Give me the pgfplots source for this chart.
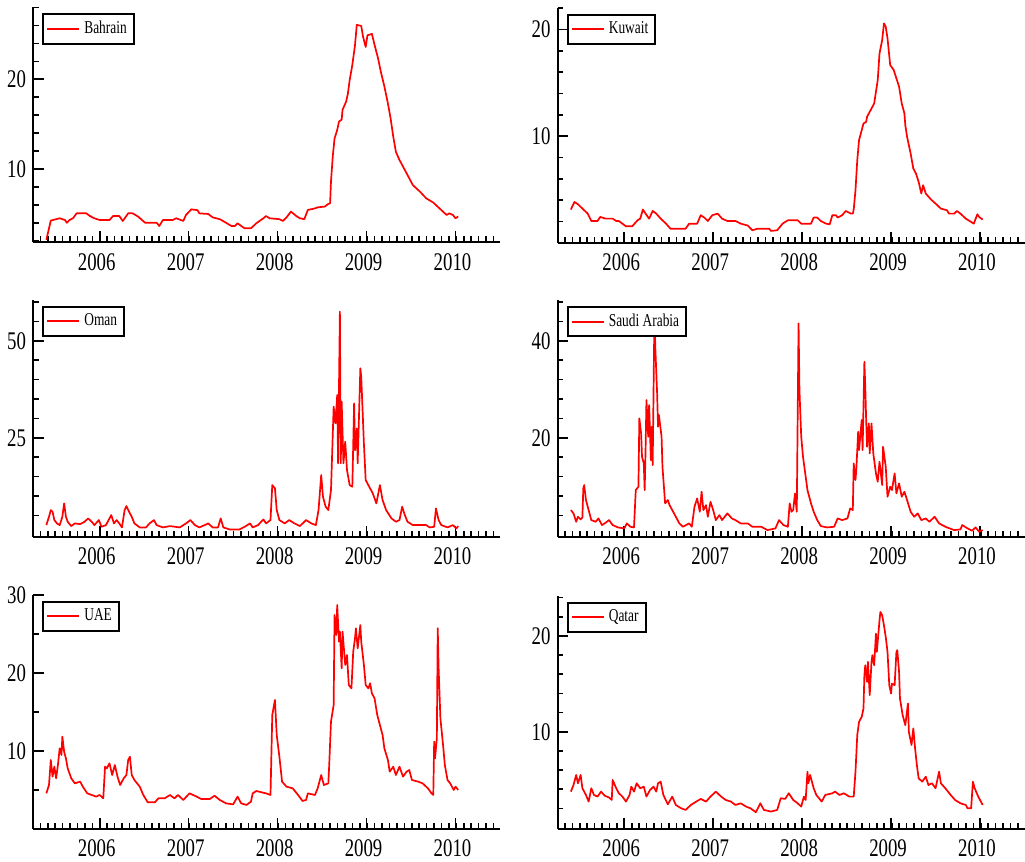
\documentclass[border=0pt]{standalone}
\usepackage{fontspec}
\setmainfont{Liberation Serif}
\usepackage{graphicx}
\usepackage{pgfplots}
\pgfplotsset{compat=1.18}
\newcommand{\sy}[1]{\scalebox{1}[1.35]{#1}}
\pgfplotsset{
  panel/.style={
    scale only axis, width=233.5pt,
    axis lines=left, axis line style={-, line width=1pt},
    xmin=2005.25, xmax=2010.5,
    xtick={2006,2007,2008,2009,2010},
    xticklabels={\sy{2006},\sy{2007},\sy{2008},\sy{2009},\sy{2010}},
    minor xtick={2005.3333,2005.4167,...,2010.45},
    tick align=inside, major tick length=5.5pt, minor tick length=3pt,
    tick style={line width=0.8pt, black},
    tick label style={font=\fontsize{9.4}{10}\selectfont},
    xticklabel style={yshift=-2pt, xshift=-1.5pt},
    legend style={at={(axis description cs:0.02,0.975)}, anchor=north west,
      draw=black, line width=1pt, font=\fontsize{6.7}{7}\selectfont,
      inner xsep=1.5pt, inner ysep=1.5pt},
    legend image code/.code={\draw[#1, line width=1pt] (0pt,0pt) -- (16pt,0pt);},
    legend cell align=left,
  },
  ser/.style={red, line width=0.85pt, mark=none, line join=round},
}
\begin{document}
\begin{tikzpicture}
\path[use as bounding box] (0,0) rectangle (512.5pt,431pt);

% Bahrain
\begin{axis}[panel, at={(16.5pt,309.75pt)}, anchor=south west, height=117.5pt,
  ymin=1.8, ymax=28, ytick={10,20}, yticklabels={\sy{10},\sy{20}},
  minor ytick={2,4,...,28}]
\addplot[ser] coordinates {
(2005.40,2.1)(2005.45,4.24)(2005.51,4.4)(2005.55,4.5)(2005.61,4.3)(2005.63,4.0)(2005.66,4.3)(2005.70,4.5)(2005.74,5.05)(2005.85,5.05)(2005.89,4.75)(2005.94,4.5)(2006.00,4.3)(2006.11,4.3)(2006.15,4.75)(2006.22,4.75)(2006.26,4.2)(2006.32,5.05)(2006.37,5.05)(2006.43,4.7)(2006.51,4.0)(2006.64,4.0)(2006.67,3.64)(2006.71,4.3)(2006.82,4.3)(2006.86,4.5)(2006.94,4.2)(2006.97,4.87)(2007.03,5.5)(2007.10,5.4)(2007.12,5.05)(2007.22,4.98)(2007.27,4.6)(2007.35,4.4)(2007.42,4.0)(2007.48,3.64)(2007.52,3.64)(2007.55,3.94)(2007.59,3.64)(2007.63,3.38)(2007.70,3.38)(2007.76,3.94)(2007.84,4.5)(2007.87,4.75)(2007.91,4.5)(2008.02,4.4)(2008.06,4.2)(2008.10,4.6)(2008.15,5.24)(2008.21,4.75)(2008.25,4.5)(2008.30,4.4)(2008.34,5.43)(2008.42,5.6)(2008.45,5.72)(2008.53,5.8)(2008.57,6.1)(2008.59,6.17)(2008.60,8.6)(2008.62,11.4)(2008.64,13.4)(2008.67,14.35)(2008.69,15.28)(2008.72,15.5)(2008.73,16.6)(2008.77,17.5)(2008.79,18.4)(2008.81,19.9)(2008.84,21.6)(2008.87,23.8)(2008.89,26.06)(2008.94,25.95)(2008.96,24.76)(2008.99,23.6)(2009.01,24.9)(2009.06,25.06)(2009.09,23.83)(2009.13,22.3)(2009.16,20.85)(2009.20,19.2)(2009.24,17.3)(2009.27,15.65)(2009.30,13.6)(2009.33,11.9)(2009.37,11.0)(2009.41,10.26)(2009.46,9.33)(2009.52,8.2)(2009.60,7.47)(2009.67,6.73)(2009.75,6.25)(2009.82,5.6)(2009.90,4.87)(2009.93,5.05)(2009.97,4.87)(2010.00,4.5)(2010.03,4.7)
};
\addlegendentry{\sy{Bahrain}}
\end{axis}

% Kuwait
\begin{axis}[panel, at={(278.75pt,309.5pt)}, anchor=south west, height=117.5pt,
  ymin=0, ymax=22, ytick={10,20}, yticklabels={\sy{10},\sy{20}},
  minor ytick={2,4,...,22}]
\addplot[ser] coordinates {
(2005.40,3.13)(2005.44,3.84)(2005.48,3.63)(2005.53,3.22)(2005.59,2.75)(2005.63,2.06)(2005.70,2.06)(2005.73,2.44)(2005.79,2.28)(2005.87,2.28)(2005.91,2.06)(2005.94,2.06)(2005.98,1.81)(2006.02,1.56)(2006.09,1.56)(2006.15,2.13)(2006.18,2.28)(2006.21,3.13)(2006.24,2.75)(2006.28,2.28)(2006.32,3.0)(2006.36,2.75)(2006.41,2.28)(2006.47,1.81)(2006.52,1.34)(2006.69,1.34)(2006.73,1.81)(2006.82,1.81)(2006.86,2.6)(2006.90,2.38)(2006.94,2.06)(2006.99,2.6)(2007.05,2.75)(2007.10,2.28)(2007.16,2.06)(2007.25,2.06)(2007.31,1.81)(2007.39,1.63)(2007.44,1.19)(2007.50,1.34)(2007.63,1.34)(2007.65,1.13)(2007.72,1.19)(2007.78,1.81)(2007.84,2.13)(2007.95,2.13)(2007.99,1.81)(2008.10,1.81)(2008.13,2.38)(2008.17,2.38)(2008.21,2.06)(2008.27,1.81)(2008.31,1.75)(2008.34,2.6)(2008.38,2.6)(2008.40,2.38)(2008.45,2.6)(2008.49,3.0)(2008.55,2.75)(2008.57,2.75)(2008.58,3.13)(2008.60,4.94)(2008.62,7.75)(2008.64,9.63)(2008.67,10.56)(2008.69,11.19)(2008.72,11.34)(2008.73,11.81)(2008.76,12.28)(2008.81,13.06)(2008.85,15.25)(2008.87,17.75)(2008.90,19.0)(2008.92,20.56)(2008.94,20.25)(2008.96,19.16)(2008.99,16.66)(2009.03,16.19)(2009.06,15.41)(2009.09,14.63)(2009.12,13.06)(2009.15,12.13)(2009.16,11.03)(2009.18,9.94)(2009.22,8.38)(2009.25,6.97)(2009.28,6.5)(2009.31,5.72)(2009.34,4.63)(2009.36,5.41)(2009.39,4.63)(2009.45,4.06)(2009.50,3.69)(2009.56,3.22)(2009.63,3.06)(2009.65,2.75)(2009.71,2.75)(2009.74,3.0)(2009.78,2.75)(2009.84,2.28)(2009.90,1.97)(2009.93,1.81)(2009.97,2.69)(2009.99,2.44)(2010.03,2.19)
};
\addlegendentry{\sy{Kuwait}}
\end{axis}

% Oman
\begin{axis}[panel, at={(16.5pt,162.65pt)}, anchor=south west, height=118.35pt,
  ymin=-0.5, ymax=60.5, ytick={25,50}, yticklabels={\sy{25},\sy{50}},
  minor ytick={5,10,...,60}]
\addplot[ser] coordinates {
(2005.40,2.49)(2005.43,4.64)(2005.45,6.36)(2005.47,5.93)(2005.49,3.78)(2005.52,2.92)(2005.55,2.49)(2005.58,4.64)(2005.60,8.08)(2005.62,4.64)(2005.64,3.35)(2005.68,2.23)(2005.72,2.92)(2005.78,2.75)(2005.83,3.35)(2005.87,4.21)(2005.91,3.35)(2005.94,2.49)(2005.99,3.78)(2006.02,2.06)(2006.07,2.49)(2006.13,5.07)(2006.16,2.92)(2006.19,3.78)(2006.22,2.92)(2006.25,1.89)(2006.28,6.36)(2006.30,7.39)(2006.33,5.93)(2006.36,4.64)(2006.39,2.92)(2006.45,1.89)(2006.52,1.89)(2006.56,2.92)(2006.61,3.78)(2006.64,2.49)(2006.71,1.89)(2006.79,2.23)(2006.90,1.89)(2006.97,2.92)(2007.02,3.78)(2007.07,2.49)(2007.12,1.89)(2007.18,2.49)(2007.22,2.92)(2007.27,1.89)(2007.33,1.89)(2007.36,4.21)(2007.39,1.89)(2007.46,1.37)(2007.57,1.37)(2007.63,2.06)(2007.69,2.92)(2007.72,1.89)(2007.78,2.49)(2007.84,3.95)(2007.87,2.92)(2007.92,3.78)(2007.94,12.8)(2007.97,11.94)(2007.99,6.36)(2008.02,3.78)(2008.08,2.92)(2008.13,3.78)(2008.19,2.92)(2008.25,2.23)(2008.32,3.78)(2008.38,2.92)(2008.43,2.49)(2008.46,6.36)(2008.49,15.38)(2008.51,9.8)(2008.54,7.22)(2008.57,6.36)(2008.60,11.51)(2008.63,33.0)(2008.65,28.7)(2008.67,36.0)(2008.68,18.4)(2008.70,57.5)(2008.71,18.4)(2008.72,34.3)(2008.74,18.4)(2008.76,24.0)(2008.78,16.67)(2008.81,12.8)(2008.84,12.37)(2008.86,33.85)(2008.87,21.8)(2008.89,27.4)(2008.90,18.4)(2008.93,42.9)(2008.94,40.7)(2008.97,23.5)(2008.99,14.1)(2009.03,12.37)(2009.07,10.65)(2009.11,8.08)(2009.15,12.8)(2009.18,8.93)(2009.22,6.36)(2009.28,4.21)(2009.33,3.35)(2009.37,3.78)(2009.40,7.22)(2009.43,5.07)(2009.46,3.35)(2009.52,2.49)(2009.67,2.49)(2009.71,1.89)(2009.76,2.06)(2009.78,6.79)(2009.81,3.78)(2009.84,2.49)(2009.91,1.89)(2009.97,2.49)(2010.01,1.63)(2010.03,2.23)
};
\addlegendentry{\sy{Oman}}
\end{axis}

% Saudi Arabia
\begin{axis}[panel, at={(278.75pt,162.65pt)}, anchor=south west, height=118.35pt,
  ymin=-0.4, ymax=48.4, ytick={20,40}, yticklabels={\sy{20},\sy{40}},
  minor ytick={4,8,...,48}]
\addplot[ser] coordinates {
(2005.40,5.09)(2005.43,4.40)(2005.46,2.68)(2005.48,3.71)(2005.51,3.16)(2005.53,3.57)(2005.54,9.55)(2005.55,10.24)(2005.57,7.15)(2005.60,5.09)(2005.63,3.02)(2005.68,2.68)(2005.71,3.37)(2005.75,2.0)(2005.78,2.34)(2005.83,3.02)(2005.87,2.0)(2005.93,1.51)(2006.00,1.31)(2006.03,2.34)(2006.07,1.65)(2006.11,1.51)(2006.13,9.21)(2006.16,9.9)(2006.17,23.99)(2006.19,20.89)(2006.20,16.08)(2006.22,14.71)(2006.23,9.21)(2006.24,17.46)(2006.25,27.77)(2006.27,20.2)(2006.28,26.74)(2006.30,15.4)(2006.31,22.27)(2006.32,14.36)(2006.34,45.64)(2006.35,38.42)(2006.37,29.14)(2006.38,22.27)(2006.39,24.67)(2006.42,20.2)(2006.43,14.02)(2006.46,6.46)(2006.49,7.15)(2006.51,6.11)(2006.54,5.09)(2006.58,3.71)(2006.62,2.34)(2006.66,1.65)(2006.73,2.34)(2006.76,1.65)(2006.79,5.77)(2006.82,7.49)(2006.85,4.74)(2006.87,8.87)(2006.89,5.09)(2006.92,6.11)(2006.94,3.71)(2006.97,6.8)(2007.00,5.09)(2007.03,3.02)(2007.07,4.05)(2007.10,3.02)(2007.16,4.4)(2007.21,3.37)(2007.25,3.02)(2007.31,2.34)(2007.39,2.34)(2007.44,1.65)(2007.54,1.65)(2007.61,0.96)(2007.70,1.31)(2007.74,3.02)(2007.79,2.0)(2007.84,1.65)(2007.86,6.46)(2007.88,4.74)(2007.90,5.09)(2007.92,8.52)(2007.94,4.74)(2007.96,43.57)(2007.97,29.83)(2007.99,20.2)(2008.01,16.08)(2008.03,13.33)(2008.06,9.21)(2008.10,6.46)(2008.13,4.74)(2008.17,3.02)(2008.21,1.79)(2008.28,1.51)(2008.36,1.65)(2008.40,3.37)(2008.45,3.02)(2008.51,3.37)(2008.54,5.43)(2008.57,5.09)(2008.58,14.71)(2008.60,11.27)(2008.61,13.68)(2008.63,21.24)(2008.64,17.46)(2008.67,23.64)(2008.68,17.46)(2008.70,35.67)(2008.71,30.52)(2008.72,23.64)(2008.73,18.14)(2008.75,22.96)(2008.76,16.77)(2008.78,22.96)(2008.80,16.77)(2008.83,12.65)(2008.85,10.93)(2008.87,15.05)(2008.90,10.24)(2008.91,18.14)(2008.94,14.02)(2008.96,7.84)(2008.99,9.9)(2009.01,9.21)(2009.04,12.65)(2009.06,8.52)(2009.09,10.58)(2009.12,7.84)(2009.15,8.87)(2009.18,7.15)(2009.22,4.74)(2009.26,3.71)(2009.30,4.4)(2009.34,3.02)(2009.39,3.37)(2009.43,2.68)(2009.49,3.71)(2009.54,2.34)(2009.61,1.65)(2009.71,0.96)(2009.78,1.1)(2009.80,2.0)(2009.86,1.31)(2009.91,0.83)(2009.95,1.51)(2009.99,0.62)(2010.03,0.96)
};
\addlegendentry{\sy{Saudi Arabia}}
\end{axis}

% UAE
\begin{axis}[panel, at={(16.5pt,16.5pt)}, anchor=south west, height=117pt,
  ymin=0, ymax=30, ytick={10,20,30}, yticklabels={\sy{10},\sy{20},\sy{30}},
  minor ytick={5,10,...,30}]
\addplot[ser] coordinates {
(2005.40,4.57)(2005.43,5.64)(2005.45,8.85)(2005.47,6.71)(2005.49,7.99)(2005.51,6.5)(2005.53,8.2)(2005.55,10.34)(2005.57,9.49)(2005.58,11.84)(2005.60,9.91)(2005.62,9.06)(2005.64,7.78)(2005.68,6.5)(2005.72,5.85)(2005.78,6.07)(2005.81,5.43)(2005.86,4.57)(2005.91,4.36)(2005.96,4.15)(2006.00,4.36)(2006.04,3.93)(2006.06,7.99)(2006.08,7.78)(2006.11,8.42)(2006.14,6.92)(2006.17,8.2)(2006.20,6.71)(2006.23,5.64)(2006.27,6.5)(2006.30,6.92)(2006.32,8.85)(2006.34,9.27)(2006.36,6.92)(2006.39,6.28)(2006.45,5.43)(2006.49,4.36)(2006.54,3.42)(2006.62,3.42)(2006.66,3.93)(2006.73,3.93)(2006.79,4.36)(2006.84,3.93)(2006.88,4.36)(2006.94,3.72)(2007.01,4.57)(2007.09,4.15)(2007.14,3.85)(2007.24,3.85)(2007.29,4.27)(2007.35,3.72)(2007.42,3.29)(2007.50,3.16)(2007.55,4.15)(2007.59,3.29)(2007.65,3.08)(2007.70,3.5)(2007.72,4.57)(2007.76,4.87)(2007.82,4.7)(2007.87,4.57)(2007.92,4.36)(2007.94,14.62)(2007.97,16.54)(2007.99,12.05)(2008.02,9.27)(2008.05,6.07)(2008.10,5.43)(2008.17,5.21)(2008.23,4.36)(2008.28,3.59)(2008.32,3.72)(2008.34,4.57)(2008.42,4.36)(2008.45,5.21)(2008.49,6.92)(2008.52,5.64)(2008.57,5.85)(2008.58,8.2)(2008.60,13.76)(2008.63,15.9)(2008.64,27.44)(2008.66,24.87)(2008.67,28.72)(2008.69,24.02)(2008.70,25.3)(2008.72,20.6)(2008.73,25.3)(2008.76,21.03)(2008.78,22.31)(2008.80,18.46)(2008.83,18.03)(2008.85,22.74)(2008.87,24.44)(2008.88,25.73)(2008.90,23.16)(2008.93,26.15)(2008.94,24.02)(2008.97,21.03)(2008.99,18.46)(2009.02,18.03)(2009.04,18.68)(2009.06,17.39)(2009.09,16.75)(2009.12,14.62)(2009.15,13.33)(2009.18,12.05)(2009.20,10.34)(2009.24,8.85)(2009.26,7.35)(2009.30,7.99)(2009.33,6.92)(2009.37,7.99)(2009.41,6.71)(2009.45,7.35)(2009.48,7.56)(2009.51,6.28)(2009.58,6.07)(2009.63,5.85)(2009.69,5.21)(2009.73,4.57)(2009.75,4.36)(2009.76,11.2)(2009.77,9.06)(2009.79,11.62)(2009.80,25.73)(2009.81,20.6)(2009.83,14.19)(2009.86,10.77)(2009.88,8.2)(2009.91,6.28)(2009.94,5.85)(2009.98,5.0)(2010.00,5.43)(2010.03,5.0)
};
\addlegendentry{\sy{UAE}}
\end{axis}

% Qatar
\begin{axis}[panel, at={(278.75pt,16.5pt)}, anchor=south west, height=116.65pt,
  ymin=-0.15, ymax=24.2, ytick={10,20}, yticklabels={\sy{10},\sy{20}},
  minor ytick={2,4,...,24}]
\addplot[ser] coordinates {
(2005.40,3.75)(2005.43,4.44)(2005.46,5.49)(2005.48,4.62)(2005.51,5.49)(2005.53,4.1)(2005.57,3.4)(2005.60,2.71)(2005.63,4.1)(2005.66,3.4)(2005.70,3.23)(2005.74,3.75)(2005.78,3.33)(2005.83,3.13)(2005.86,2.88)(2005.87,4.97)(2005.91,4.1)(2005.94,3.58)(2005.98,3.23)(2006.02,2.71)(2006.06,3.4)(2006.08,4.27)(2006.11,3.75)(2006.14,4.62)(2006.18,4.1)(2006.22,4.27)(2006.25,3.23)(2006.29,3.92)(2006.33,4.27)(2006.36,3.75)(2006.38,4.62)(2006.41,4.79)(2006.44,3.4)(2006.49,2.43)(2006.54,3.23)(2006.58,2.36)(2006.64,2.01)(2006.69,1.84)(2006.75,2.36)(2006.81,2.71)(2006.86,2.99)(2006.92,2.71)(2006.97,3.23)(2007.03,3.75)(2007.09,3.23)(2007.14,2.88)(2007.20,2.71)(2007.25,2.36)(2007.31,2.53)(2007.37,2.19)(2007.42,2.01)(2007.48,1.6)(2007.53,2.53)(2007.57,1.84)(2007.65,1.67)(2007.72,1.84)(2007.76,3.06)(2007.81,2.99)(2007.85,3.58)(2007.90,2.88)(2007.95,2.53)(2007.99,2.19)(2008.02,3.23)(2008.04,2.88)(2008.06,5.83)(2008.07,4.62)(2008.09,5.49)(2008.13,4.1)(2008.16,3.4)(2008.19,3.06)(2008.22,2.71)(2008.26,3.4)(2008.34,3.58)(2008.37,3.75)(2008.42,3.4)(2008.47,3.58)(2008.53,3.23)(2008.58,3.23)(2008.60,5.83)(2008.62,9.65)(2008.64,11.04)(2008.67,11.56)(2008.69,12.43)(2008.70,15.9)(2008.71,16.94)(2008.73,15.21)(2008.74,17.29)(2008.76,13.82)(2008.78,17.29)(2008.79,17.99)(2008.81,16.94)(2008.83,20.24)(2008.84,18.33)(2008.87,21.63)(2008.88,22.5)(2008.90,22.15)(2008.92,21.11)(2008.94,19.9)(2008.96,18.33)(2008.98,14.86)(2009.00,13.99)(2009.01,15.03)(2009.04,14.86)(2009.06,18.33)(2009.07,18.51)(2009.09,16.25)(2009.10,13.47)(2009.13,11.74)(2009.16,10.69)(2009.19,12.95)(2009.20,10.0)(2009.23,8.61)(2009.25,10.35)(2009.27,8.26)(2009.29,6.53)(2009.31,5.14)(2009.35,4.79)(2009.39,5.31)(2009.42,4.44)(2009.46,4.62)(2009.50,4.1)(2009.54,5.83)(2009.56,4.62)(2009.61,4.1)(2009.67,3.4)(2009.72,2.88)(2009.78,2.53)(2009.84,2.36)(2009.86,2.01)(2009.90,2.01)(2009.92,4.79)(2009.94,4.1)(2009.98,3.23)(2010.03,2.36)
};
\addlegendentry{\sy{Qatar}}
\end{axis}
\end{tikzpicture}
\end{document}
